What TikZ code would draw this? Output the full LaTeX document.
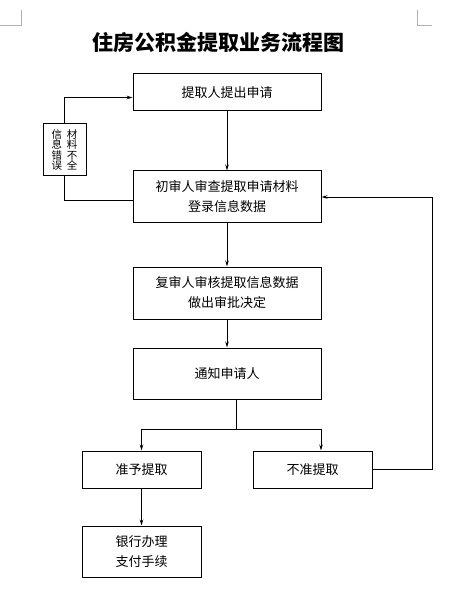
\documentclass[tikz,border=0pt]{standalone}
\usepackage{fontspec}
\newfontfamily\cjk{Noto Sans CJK SC}
\usetikzlibrary{arrows.meta}
\begin{document}
\begin{tikzpicture}[x=1pt,y=-1pt,font=\cjk\fontsize{13}{20}\selectfont,
    >={Stealth[length=6pt,width=3.5pt]},
    box/.style={draw,line width=1pt,minimum width=188pt,align=center,inner sep=0pt},
    smallbox/.style={box,minimum width=119pt}]
    \useasboundingbox (0,0) rectangle (461,601);
    \draw[gray!60] (21,10) -- (21,25) -- (0,25) (417,10) -- (417,25) -- (432,25);
    \node (title) at (218,43) {\fontsize{21}{24}\selectfont\bfseries 住房公积金提取业务流程图};
    \node[box,minimum height=37pt] (apply) at (227,92.5) {提取人提出申请};
    \node[box,minimum height=52pt] (check) at (227,197) {初审人审查提取申请材料\\登录信息数据};
    \node[box,minimum height=52pt] (review) at (227,293) {复审人审核提取信息数据\\做出审批决定};
    \node[box,minimum height=51pt] (notify) at (227,373.5) {\raisebox{-2pt}{通知申请人}};
    \node[smallbox,minimum height=37pt] (grant) at (141.5,469.5) {准予提取};
    \node[smallbox,minimum height=37pt] (deny) at (312.5,469.5) {不准提取};
    \node[smallbox,minimum height=51pt] (bank) at (141.5,551.5) {银行办理\\支付手续};
    \node[box,minimum width=43pt,minimum height=52pt,font=\cjk\fontsize{10.5}{10.5}\selectfont] (wrong) at (64.5,150)
        {信\hspace{5pt}材\\息\hspace{5pt}料\\错\hspace{5pt}不\\误\hspace{5pt}全};
    \draw[thick,->] (apply) -- (check);
    \draw[thick,->] (check) -- (review);
    \draw[thick,->] (review) -- (notify);
    \draw[thick] ([xshift=9pt]notify.south) -- ++(0,30) coordinate (split);
    \draw[thick,->] (split) -| (grant);
    \draw[thick,->] (split) -| ([xshift=8.5pt]deny.north);
    \draw[thick,->] (grant) -- (bank);
    \draw[thick,->] (deny.east) -- ++(60,0) |- (check.east);
    \draw[thick] ([yshift=-3pt]check.west) -| (wrong.south);
    \draw[thick,->] (wrong.north) |- ([yshift=-5pt]apply.west);
\end{tikzpicture}
\end{document}
